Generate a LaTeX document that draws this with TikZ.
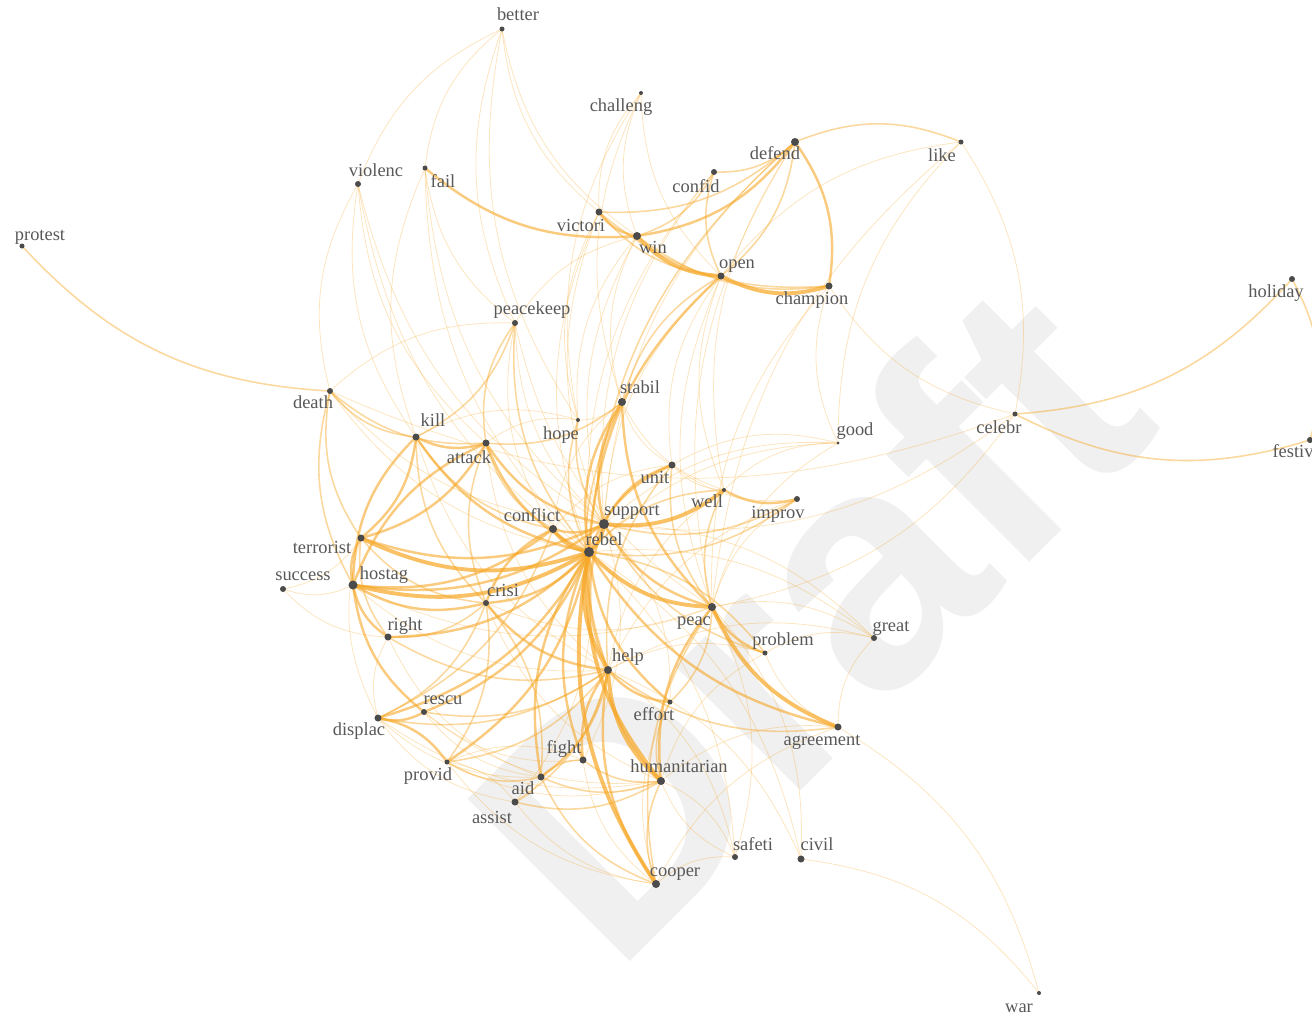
\documentclass[tikz,border=0pt]{standalone}
\usepackage{xcolor}
\usepackage{fontspec}
\setmainfont{Liberation Serif}
\newfontfamily\wmfont{Liberation Sans}
\newfontfamily\termfont{Liberation Serif}
\usepackage{tikz}

\definecolor{edgeorange}{RGB}{246,168,40}
\definecolor{dotgray}{RGB}{75,75,75}
\definecolor{textgray}{RGB}{88,88,88}
\definecolor{markgray}{RGB}{240,240,240}

% name/x/y/dot size/label x/label y
\def\termlist{better/502/29/5/518/16, challeng/641/93/4/621/107, defend/795/142/8/775/155,
  like/961/142/5/942/157, violenc/358/184/6/376/172, fail/425/168/5/443/183,
  confid/714/172/6/696/188, protest/22/246/5/40/236, victori/599/212/7/581/227,
  win/637/236/8/653/249, open/721/276/7/737/264, champion/829/286/7/812/300,
  holiday/1292/279/6/1276/293, peacekeep/515/323/6/532/310, death/330/391/6/313/404,
  stabil/622/402/8/640/389, kill/416/437/7/433/422, hope/578/420/4/561/435,
  good/838/443/3/855/431, celebr/1015/414/5/999/429, festiv/1310/440/6/1293/453,
  attack/486/443/7/469/459, unit/672/465/7/655/479, well/724/490/4/707/503,
  improv/797/499/6/778/514, support/604/524/10/632/511, conflict/553/529/8/532/517,
  rebel/589/552/10/604/541, terrorist/361/538/7/322/549, success/283/589/6/303/576,
  hostag/353/585/9/384/575, crisi/486/603/6/503/592, peac/712/607/8/694/621,
  right/388/637/7/405/626, problem/765/653/5/783/641, great/874/638/6/891/627,
  help/608/670/8/628/657, rescu/424/712/6/443/700, effort/670/702/5/654/716,
  displac/378/718/7/359/731, agreement/838/727/7/822/741, fight/583/760/7/564/749,
  humanitarian/661/781/8/679/768, provid/447/762/5/428/776, aid/541/777/7/523/790,
  assist/515/802/7/492/819, safeti/735/857/6/753/846, civil/801/859/7/817/846,
  cooper/656/884/8/675/872, war/1039/993/4/1019/1008}

\begin{document}
\begin{tikzpicture}[
        x=0.02cm, y=-0.02cm,
        dot/.style={circle, fill=dotgray, inner sep=0pt},
        term/.style={text=textgray, font=\termfont\fontsize{10.5}{12}\selectfont, inner sep=0pt, anchor=base},
        wk/.style={draw=edgeorange, line width=0.45pt, draw opacity=0.3},
        md/.style={draw=edgeorange, line width=0.9pt, draw opacity=0.45},
        st/.style={draw=edgeorange, line width=1.4pt, draw opacity=0.6},
        hv/.style={draw=edgeorange, line width=2.2pt, draw opacity=0.72}
        ]
        \useasboundingbox (0,0) rectangle (1312,1018);

        % watermark
        \node[rotate=45, anchor=base west, inner sep=0pt, text=markgray,
              font=\wmfont\bfseries\fontsize{190}{190}\selectfont] (draft) at (614,978) {Draft};

        % positions
        \foreach \n/\x/\y/\s/\lx/\ly in \termlist
          \coordinate (\n) at (\x,\y);

        % edges
        \begin{scope}[bend right=22]
        \foreach \a/\b in {better/violenc, better/fail, better/victori, better/win, better/hope,
            better/peacekeep, challeng/victori, challeng/win, challeng/hope, challeng/stabil,
            challeng/open, violenc/death, violenc/attack, violenc/kill, violenc/rebel,
            violenc/support, fail/kill, fail/rebel, fail/support, fail/peacekeep, celebr/like,
            like/good, like/peac, good/support, good/well, good/rebel, good/peac, good/unit,
            great/peac, great/help, great/rebel, great/problem, great/agreement, great/support,
            safeti/help, safeti/rebel, safeti/peac, safeti/humanitarian, safeti/cooper,
            civil/rebel, civil/peac, war/civil, war/agreement, civil/help, success/hostag,
            success/terrorist, success/right, death/celebr, peac/celebr, support/celebr,
            champion/good, champion/peac, confid/support, confid/rebel, victori/rebel,
            victori/support, victori/hope, win/stabil, win/support, win/hope, win/peacekeep,
            open/support, open/peac, open/well, open/unit, defend/support, defend/peac,
            defend/well, peacekeep/death, peacekeep/support, peacekeep/peac, peacekeep/conflict,
            hope/stabil, hope/attack, hope/kill, unit/well, unit/improv, unit/conflict,
            problem/agreement, problem/help, problem/humanitarian, effort/cooper, effort/support,
            assist/aid, assist/provid, assist/cooper, assist/rebel, fight/provid, fight/cooper,
            fight/support, displac/aid, displac/humanitarian, displac/assist, rescu/aid,
            rescu/humanitarian, rescu/fight, provid/humanitarian, provid/cooper, right/aid,
            right/displac, terrorist/displac, hostag/help, hostag/peac, kill/help, attack/help,
            crisi/humanitarian, crisi/peac, stabil/well, stabil/unit, stabil/conflict,
            humanitarian/safeti, agreement/humanitarian, agreement/cooper, improv/peac,
            improv/help, well/help, death/rebel, death/support, champion/celebr, like/open}
          \draw[wk] (\a) to (\b);
        \foreach \a/\b in {victori/defend, win/confid, victori/open, victori/champion,
            confid/defend, confid/open, open/defend, death/kill, death/terrorist, death/attack,
            death/hostag, terrorist/crisi, terrorist/right, right/crisi, right/help, rescu/help,
            provid/help, provid/aid, aid/humanitarian, aid/cooper, assist/humanitarian,
            assist/help, fight/humanitarian, fight/aid, humanitarian/cooper, peac/cooper,
            effort/peac, effort/humanitarian, help/agreement, problem/rebel, support/problem,
            peacekeep/rebel, peacekeep/attack, kill/peacekeep, hope/rebel, hope/support,
            attack/stabil, stabil/help, unit/peac, unit/help, well/peac, well/rebel,
            support/improv, rebel/improv, celebr/holiday, celebr/festiv, festiv/holiday,
            protest/death, like/defend, displac/crisi, provid/crisi, aid/crisi, displac/help,
            displac/conflict, attack/conflict, kill/conflict, kill/crisi, attack/crisi,
            open/stabil, defend/rebel, win/champion}
          \draw[md] (\a) to (\b);
        \foreach \a/\b in {crisi/rebel, rebel/aid, rebel/fight, provid/rebel, displac/rebel,
            rescu/rebel, attack/rebel, kill/rebel, stabil/rebel, rebel/effort, right/rebel,
            support/help, support/peac, stabil/support, hostag/support, terrorist/support,
            conflict/support, unit/support, attack/support, help/cooper, help/fight,
            help/effort, aid/help, terrorist/hostag, kill/hostag, attack/hostag, hostag/crisi,
            hostag/right, hostag/rescu, hostag/conflict, displac/rescu, provid/displac,
            victori/win, win/defend, champion/defend, fail/win, peac/problem, kill/attack,
            terrorist/attack, terrorist/kill, conflict/crisi, stabil/peac, well/improv,
            peac/humanitarian, crisi/help, unit/rebel, open/rebel, rebel/agreement}
          \draw[st] (\a) to (\b);
        \foreach \a/\b in {rebel/support, rebel/help, hostag/rebel, rebel/peac,
            rebel/humanitarian, rebel/cooper, win/open, open/champion, peac/agreement,
            support/well, conflict/rebel, terrorist/rebel, help/humanitarian}
          \draw[hv] (\a) to (\b);
        \end{scope}

        % dots and labels
        \foreach \n/\x/\y/\s/\lx/\ly in \termlist {
          \node[dot, minimum size=\s*0.57pt] (\n-dot) at (\n) {};
          \node[term] (\n-text) at (\lx,\ly+4) {\n};
        }
\end{tikzpicture}
\end{document}
